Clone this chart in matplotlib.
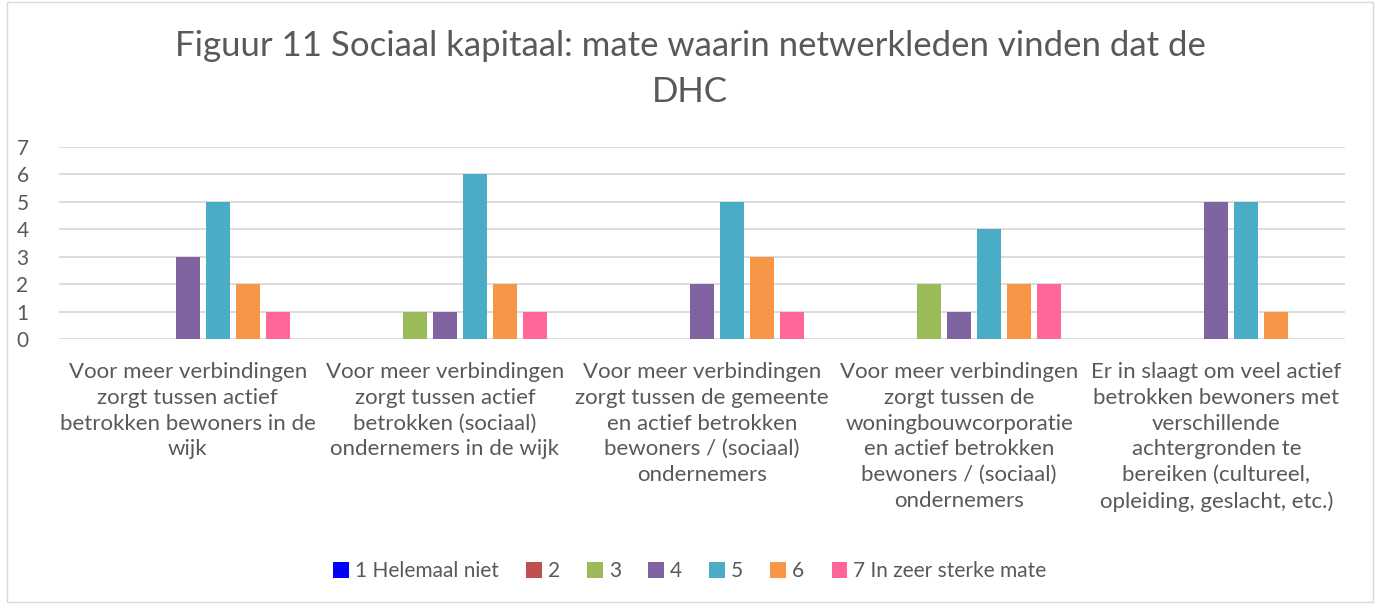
import matplotlib
matplotlib.use("Agg")
import matplotlib.pyplot as plt
import numpy as np
from matplotlib.patches import Rectangle

plt.rcParams['font.family'] = ['Lato', 'DejaVu Sans']

title = 'Figuur 11 Sociaal kapitaal: mate waarin netwerkleden vinden dat de\nDHC'

categories = [
    'Voor meer verbindingen\nzorgt tussen actief\nbetrokken bewoners in de\nwijk',
    'Voor meer verbindingen\nzorgt tussen actief\nbetrokken (sociaal)\nondernemers in de wijk',
    'Voor meer verbindingen\nzorgt tussen de gemeente\nen actief betrokken\nbewoners / (sociaal)\nondernemers',
    'Voor meer verbindingen\nzorgt tussen de\nwoningbouwcorporatie\nen actief betrokken\nbewoners / (sociaal)\nondernemers',
    'Er in slaagt om veel actief\nbetrokken bewoners met\nverschillende\nachtergronden te\nbereiken (cultureel,\nopleiding, geslacht, etc.)',
]

series_names = ['1 Helemaal niet', '2', '3', '4', '5', '6', '7 In zeer sterke mate']
series_colors = ['#0000FF', '#C0504D', '#9BBB59', '#8064A2', '#4BACC6', '#F79646', '#FF6699']

values = [
    [0, 0, 0, 0, 0],   # 1
    [0, 0, 0, 0, 0],   # 2
    [0, 1, 0, 2, 0],   # 3
    [3, 1, 2, 1, 5],   # 4
    [5, 6, 5, 4, 5],   # 5
    [2, 2, 3, 2, 1],   # 6
    [1, 1, 1, 2, 0],   # 7
]

fig = plt.figure(figsize=(13.8, 6.04), dpi=100)
ax = fig.add_axes([0.0428, 0.4387, 0.9318, 0.3179])

# light border around the chart area
fig.patches.append(Rectangle((0.005, 0.003), 0.99, 0.994, transform=fig.transFigure,
                             fill=False, ec='#D9D9D9', lw=1))

x = np.arange(len(categories))
slot = 0.1167
width = 0.093
for i, (name, vals) in enumerate(zip(series_names, values)):
    ax.bar(x + (i - 3) * slot, vals, width, color=series_colors[i], label=name, zorder=3)

ax.set_xlim(-0.5, len(categories) - 0.5)
ax.set_ylim(0, 7)
ax.set_yticks(range(8))
ax.yaxis.grid(True, color='#D9D9D9', lw=1.3, zorder=0)
for s in ax.spines.values():
    s.set_visible(False)
ax.tick_params(axis='y', length=0, labelsize=15, labelcolor='#595959', pad=22)
ax.tick_params(axis='x', length=0)
ax.set_xticks(x)
ax.set_xticklabels([])

for xi, lab in zip(x, categories):
    ax.text(xi, -0.84, lab, ha='center', va='top', fontsize=16, color='#595959',
            linespacing=1.36, transform=ax.transData)

fig.text(0.5, 1 - 30 / 604, title, ha='center', va='top', fontsize=25, color='#595959',
         linespacing=1.55)

leg = fig.legend(loc='center', bbox_to_anchor=(0.5, 0.054), ncol=7, frameon=False,
                 fontsize=15, handlelength=0.75, handleheight=0.75, handletextpad=0.3,
                 columnspacing=1.3, labelcolor='#595959')

fig.savefig('out.png', dpi=100)
